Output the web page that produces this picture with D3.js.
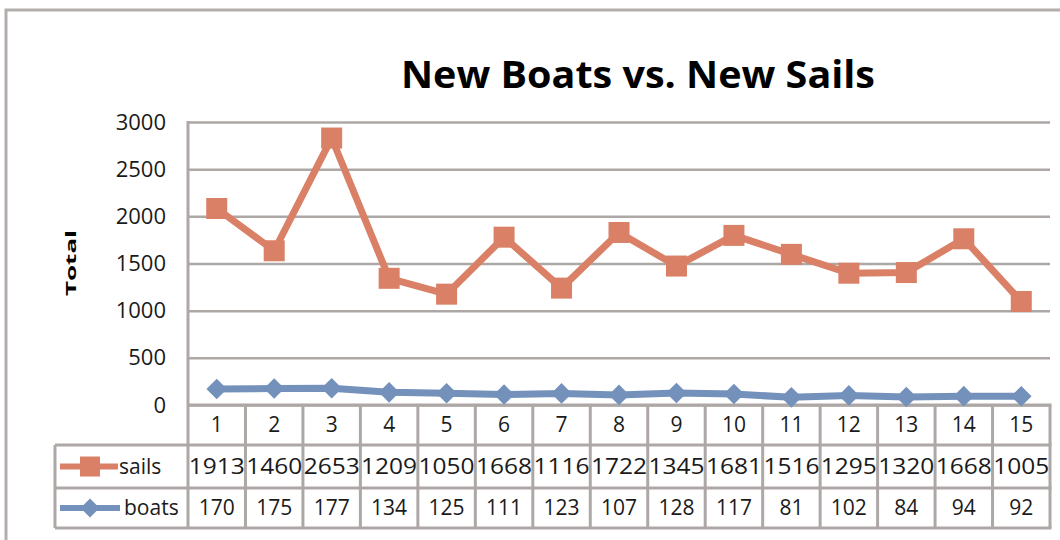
<!DOCTYPE html>
<html>
<head>
<meta charset="utf-8">
<script src="https://cdn.jsdelivr.net/npm/d3@7"></script>
<style>
  body { margin: 0; background: #fff; }
  svg { display: block; font-family: 'Open Sans', 'Noto Sans', sans-serif; }
</style>
</head>
<body>
<div id="chart"></div>
<script>
// Data as shown in the table; the chart draws it as a stacked line (sails on top of boats)
const categories = ['1', '2', '3', '4', '5', '6', '7', '8', '9', '10', '11', '12', '13', '14', '15'];
const sails = [1913, 1460, 2653, 1209, 1050, 1668, 1116, 1722, 1345, 1681, 1516, 1295, 1320, 1668, 1005];
const boats = [170, 175, 177, 134, 125, 111, 123, 107, 128, 117, 81, 102, 84, 94, 92];
const y_ticks = [0, 500, 1000, 1500, 2000, 2500, 3000];

const width = 1060, height = 540;
const plot = {left: 188, right: 1050, top: 122, bottom: 405};
const table_left = 55;
const rows = {header: [405, 445], sails: [445, 488], boats: [488, 528]};

const sails_color = '#d98066';
const boats_color = '#7391bb';
const grid_color = '#ada8a6';
const text_color = '#1a1a1a';

const svg = d3.select('#chart').append('svg')
    .attr('width', width)
    .attr('height', height);

// outer chart frame (runs past the right and bottom edges)
svg.append('path')
    .attr('d', `M6,${height + 5}V10H${width + 5}`)
    .attr('fill', 'none')
    .attr('stroke', '#b3aeab')
    .attr('stroke-width', 3);

// title
svg.append('text')
    .attr('x', 638)
    .attr('y', 88)
    .attr('text-anchor', 'middle')
    .attr('textLength', 474)
    .attr('lengthAdjust', 'spacingAndGlyphs')
    .style('font-size', '38px')
    .style('font-weight', 'bold')
    .style('fill', '#000')
    .text('New Boats vs. New Sails');

const x_scale = d3.scaleBand()
    .domain(categories)
    .range([plot.left, plot.right])
    .padding(0);

const y_scale = d3.scaleLinear()
    .domain([0, 3000])
    .range([plot.bottom, plot.top]);

// gridlines + y labels
const y_axis = d3.axisLeft(y_scale)
    .tickValues(y_ticks)
    .tickSize(-(plot.right - plot.left))
    .tickPadding(22)
    .tickFormat(d3.format('d'));

const y_g = svg.append('g')
    .attr('transform', `translate(${plot.left},0)`)
    .call(y_axis);
y_g.select('.domain').remove();
y_g.selectAll('line')
    .attr('stroke', grid_color)
    .attr('stroke-width', 2.5);
y_g.selectAll('text')
    .style('font-size', '22px')
    .style('font-family', "'Open Sans', sans-serif")
    .style('fill', text_color);

// left edge of plot area
svg.append('line')
    .attr('x1', plot.left).attr('x2', plot.left)
    .attr('y1', plot.top - 1).attr('y2', rows.boats[1])
    .attr('stroke', grid_color)
    .attr('stroke-width', 3);

// y axis title
svg.append('text')
    .attr('transform', 'translate(76,263)rotate(-90)')
    .attr('text-anchor', 'middle')
    .attr('textLength', 66)
    .attr('lengthAdjust', 'spacingAndGlyphs')
    .style('font-size', '15px')
    .style('font-weight', 'bold')
    .style('fill', '#000')
    .text('Total');

// data table
const table = svg.append('g').attr('class', 'data_table');

table.selectAll('line.col')
    .data(categories)
    .enter()
    .append('line')
    .attr('class', 'col')
    .attr('x1', d => x_scale(d) + x_scale.bandwidth())
    .attr('x2', d => x_scale(d) + x_scale.bandwidth())
    .attr('y1', rows.header[0])
    .attr('y2', rows.boats[1])
    .attr('stroke', grid_color)
    .attr('stroke-width', 3);

[rows.header[0], rows.sails[0], rows.boats[0], rows.boats[1]].forEach((y, i) => {
    table.append('line')
        .attr('x1', i === 0 ? plot.left : table_left)
        .attr('x2', plot.right + 1.5)
        .attr('y1', y).attr('y2', y)
        .attr('stroke', grid_color)
        .attr('stroke-width', 3);
});
table.append('line')
    .attr('x1', table_left).attr('x2', table_left)
    .attr('y1', rows.sails[0]).attr('y2', rows.boats[1])
    .attr('stroke', grid_color)
    .attr('stroke-width', 3);

const mid = r => (r[0] + r[1]) / 2;

table.selectAll('text.cat')
    .data(categories)
    .enter()
    .append('text')
    .attr('class', 'cat')
    .attr('x', d => x_scale(d) + x_scale.bandwidth() / 2)
    .attr('y', mid(rows.header))
    .attr('dy', '0.35em')
    .attr('text-anchor', 'middle')
    .style('font-size', '21px')
    .style('fill', text_color)
    .text(d => d);

const table_rows = [
    {name: 'sails', values: sails, row: rows.sails},
    {name: 'boats', values: boats, row: rows.boats}
];

table_rows.forEach(r => {
    table.selectAll(`text.val_${r.name}`)
        .data(r.values)
        .enter()
        .append('text')
        .attr('class', `val_${r.name}`)
        .attr('x', (d, i) => x_scale(categories[i]) + x_scale.bandwidth() / 2)
        .attr('y', mid(r.row))
        .attr('dy', '0.35em')
        .attr('text-anchor', 'middle')
        .attr('textLength', d => String(d).length === 4 ? 56 : null)
        .attr('lengthAdjust', 'spacingAndGlyphs')
        .style('font-size', '21px')
        .style('fill', text_color)
        .text(d => d);
});

// legend keys in the table
const diamond = d3.symbol().type(d3.symbolDiamond2);

table.append('line')
    .attr('x1', 60).attr('x2', 118)
    .attr('y1', mid(rows.sails)).attr('y2', mid(rows.sails))
    .attr('stroke', sails_color).attr('stroke-width', 6);
table.append('rect')
    .attr('x', 90 - 10).attr('y', mid(rows.sails) - 10)
    .attr('width', 20).attr('height', 20)
    .attr('fill', sails_color);
table.append('text')
    .attr('x', 119).attr('y', mid(rows.sails))
    .attr('dy', '0.35em')
    .style('font-size', '21px')
    .style('fill', text_color)
    .text('sails');

table.append('line')
    .attr('x1', 60).attr('x2', 120)
    .attr('y1', mid(rows.boats)).attr('y2', mid(rows.boats))
    .attr('stroke', boats_color).attr('stroke-width', 6);
table.append('path')
    .attr('d', diamond.size(230)())
    .attr('transform', `translate(90,${mid(rows.boats)})`)
    .attr('fill', boats_color);
table.append('text')
    .attr('x', 124).attr('y', mid(rows.boats))
    .attr('dy', '0.35em')
    .style('font-size', '21px')
    .style('fill', text_color)
    .text('boats');

// series (stacked: sails drawn at boats + sails)
const x_center = i => x_scale(categories[i]) + x_scale.bandwidth() / 2;
const stacked_sails = sails.map((v, i) => v + boats[i]);

const line = d3.line()
    .x((d, i) => x_center(i))
    .y(d => y_scale(d));

svg.append('path')
    .datum(boats)
    .attr('d', line)
    .attr('fill', 'none')
    .attr('stroke', boats_color)
    .attr('stroke-width', 7)
    .attr('stroke-linejoin', 'round');

svg.append('g')
    .selectAll('path')
    .data(boats)
    .enter()
    .append('path')
    .attr('d', diamond.size(270)())
    .attr('transform', (d, i) => `translate(${x_center(i)},${y_scale(d)})`)
    .attr('fill', boats_color);

svg.append('path')
    .datum(stacked_sails)
    .attr('d', line)
    .attr('fill', 'none')
    .attr('stroke', sails_color)
    .attr('stroke-width', 7)
    .attr('stroke-linejoin', 'round');

svg.append('g')
    .selectAll('rect')
    .data(stacked_sails)
    .enter()
    .append('rect')
    .attr('x', (d, i) => x_center(i) - 10.5)
    .attr('y', d => y_scale(d) - 10.5)
    .attr('width', 21)
    .attr('height', 21)
    .attr('fill', sails_color);
</script>
</body>
</html>
